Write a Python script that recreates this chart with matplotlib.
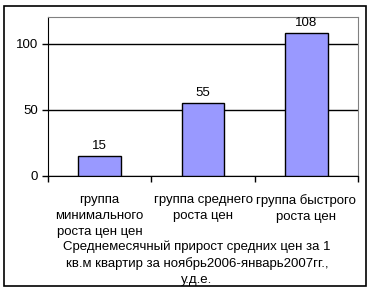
import numpy as np
import matplotlib.pyplot as plt
from matplotlib.patches import Rectangle

plt.rcParams['font.family'] = ['Liberation Sans', 'DejaVu Sans']
plt.rcParams['font.size'] = 9.5

categories = ['группа\nминимального\nроста цен цен', 'группа среднего\nроста цен', 'группа быстрого\nроста цен']
values = [15, 55, 108]
y_ticks = [0, 50, 100]
title = 'Среднемесячный прирост средних цен за 1\nкв.м квартир за ноябрь2006-январь2007гг.,\nу.д.е.'

fig = plt.figure(figsize=(3.72, 2.96), dpi=100)
fig.patches.append(Rectangle((4/372, 10/296), 362/372, 280/296, transform=fig.transFigure,
                             fill=False, edgecolor='black', linewidth=1.2))

ax = fig.add_axes([48/372, 120/296, 310/372, 159/296])
x = np.arange(len(values))
bars = ax.bar(x, values, width=0.41, color='#9999ff', edgecolor='black', linewidth=1, zorder=3)
for xi, v in zip(x, values):
    ax.text(xi, v + 3, str(v), ha='center', va='bottom')

ax.set_xlim(-0.5, 2.5)
ax.set_ylim(0, 120)
ax.set_yticks(y_ticks)
ax.yaxis.grid(True, color='black', linewidth=1, zorder=0)
ax.set_xticks(x)
ax.set_xticklabels(categories, linespacing=1.45)
ax.set_xticks([-0.5, 0.5, 1.5, 2.5], minor=True)
ax.tick_params(axis='x', which='major', length=0, pad=13)
ax.tick_params(axis='x', which='minor', length=4, direction='out', width=1)
ax.tick_params(axis='y', length=4, width=1, pad=3)
ax.spines['top'].set_color('#808080')
ax.spines['right'].set_color('#808080')
ax.spines['left'].set_color('black')
ax.spines['bottom'].set_color('black')

fig.text(197/372, 1 - 263/296, title, ha='center', va='center', linespacing=1.45)

fig.savefig('out.png', dpi=100)
